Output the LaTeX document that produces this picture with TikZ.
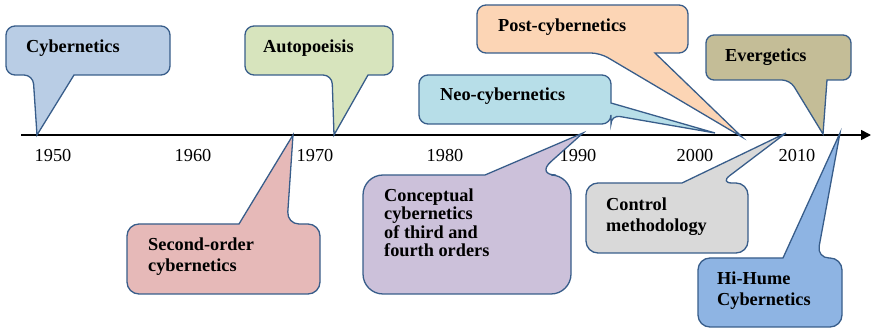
\documentclass[tikz,border=0pt]{standalone}
\usepackage{fontspec}
\setmainfont{Liberation Serif}
\usetikzlibrary{arrows.meta}

\definecolor{edgeblue}{HTML}{385D8A}
\definecolor{cCyber}{HTML}{B9CDE5}
\definecolor{cAuto}{HTML}{D7E4BD}
\definecolor{cPost}{HTML}{FCD5B5}
\definecolor{cNeo}{HTML}{B7DEE8}
\definecolor{cEverg}{HTML}{C4BD97}
\definecolor{cSecond}{HTML}{E6B9B8}
\definecolor{cConcept}{HTML}{CCC1DA}
\definecolor{cControl}{HTML}{D9D9D9}
\definecolor{cHume}{HTML}{8EB4E3}

\begin{document}
\begin{tikzpicture}[x=1pt,y=-1pt,
  bubble/.style={draw=edgeblue, line width=1.3pt, line join=miter},
  tagtext/.style={inner sep=0pt, anchor=base west, align=left,
    font=\bfseries\fontsize{18.3}{21}\selectfont},
  yeartext/.style={inner sep=0pt, anchor=base, font=\fontsize{18.3}{21}\selectfont}]

\useasboundingbox (0,0) rectangle (871,328);

% time axis
\coordinate (axl) at (21,135);
\coordinate (axr) at (871,135);
\draw[line width=1.6pt, -{Triangle[length=10pt,width=10pt]}] (axl) -- (axr);

% decades
\node[yeartext] (y1950) at (53,162) {1950};
\node[yeartext] (y1960) at (193,162) {1960};
\node[yeartext] (y1970) at (315,162) {1970};
\node[yeartext] (y1980) at (445,162) {1980};
\node[yeartext] (y1990) at (578,162) {1990};
\node[yeartext] (y2000) at (695,162) {2000};
\node[yeartext] (y2010) at (797,162) {2010};

% pointer tips on the axis
\coordinate (tCyber) at (37,135);
\coordinate (tAuto) at (334,135);
\coordinate (tPost) at (742,137);
\coordinate (tNeo) at (715,133);
\coordinate (tEverg) at (823,134);
\coordinate (tSecond) at (293,135);
\coordinate (tConcept) at (583,133);
\coordinate (tControl) at (786,133);
\coordinate (tHume) at (840,133);

% callouts above the axis
\path[bubble, fill=cCyber] (88,26) [rounded corners=9pt] -- (6,26) -- (6,75) -- (33,75)
  [sharp corners] -- (tCyber) -- (74,75) [rounded corners=9pt] -- (170,75) -- (170,26) -- cycle;
\node[tagtext] (nCyber) at (26,53) {Cybernetics};

\path[bubble, fill=cAuto] (319,26) [rounded corners=9pt] -- (245,26) -- (245,75) -- (332,75)
  [sharp corners] -- (tAuto) -- (368,75) [rounded corners=9pt] -- (393,75) -- (393,26) -- cycle;
\node[tagtext] (nAuto) at (263,53) {Autopoeisis};

\path[bubble, fill=cPost] (582,5) [rounded corners=9pt] -- (477,5) -- (477,53) -- (600,53)
  [sharp corners] -- (tPost) -- (655,53) [rounded corners=9pt] -- (688,53) -- (688,5) -- cycle;
\node[tagtext] (nPost) at (498,32) {Post-cybernetics};

\path[bubble, fill=cNeo] (515,75) [rounded corners=9pt] -- (419,75) -- (419,124) -- (611,124) -- (611,115)
  [sharp corners] -- (tNeo) -- (611,103) [rounded corners=9pt] -- (611,75) -- cycle;
\node[tagtext] (nNeo) at (440,101) {Neo-cybernetics};

\path[bubble, fill=cEverg] (778,35) [rounded corners=8pt] -- (706,35) -- (706,80) -- (790,80)
  [sharp corners] -- (tEverg) -- (827,80) [rounded corners=8pt] -- (851,80) -- (851,35) -- cycle;
\node[tagtext] (nEverg) at (725,62) {Evergetics};

% callouts below the axis (multi-line labels are placed by their last baseline)
\path[bubble, fill=cSecond] (223,294) [rounded corners=12pt] -- (320,294) -- (320,224) -- (287,224)
  [sharp corners] -- (tSecond) -- (239,224) [rounded corners=12pt] -- (127,224) -- (127,294) -- cycle;
\node[tagtext] (nSecond) at (148,272) {Second-order\\cybernetics};

\path[bubble, fill=cConcept] (467,294) [rounded corners=20pt] -- (571,294) -- (571,175) -- (536,175)
  [sharp corners] -- (tConcept) -- (485,175) [rounded corners=20pt] -- (363,175) -- (363,294) -- cycle;
\node[tagtext, font=\bfseries\fontsize{18.3}{18.5}\selectfont] (nConcept) at (384,257)
  {Conceptual\\cybernetics\\of third and\\fourth orders};

\path[bubble, fill=cControl] (667,253) [rounded corners=12pt] -- (748,253) -- (748,183) -- (720,183)
  [sharp corners] -- (tControl) -- (682,183) [rounded corners=12pt] -- (586,183) -- (586,253) -- cycle;
\node[tagtext] (nControl) at (606,232) {Control\\methodology};

\path[bubble, fill=cHume] (770,327) [rounded corners=12pt] -- (842,327) -- (842,258) -- (817,258)
  [sharp corners] -- (tHume) -- (783,258) [rounded corners=12pt] -- (698,258) -- (698,327) -- cycle;
\node[tagtext] (nHume) at (717,306) {Hi-Hume\\Cybernetics};

\end{tikzpicture}
\end{document}
